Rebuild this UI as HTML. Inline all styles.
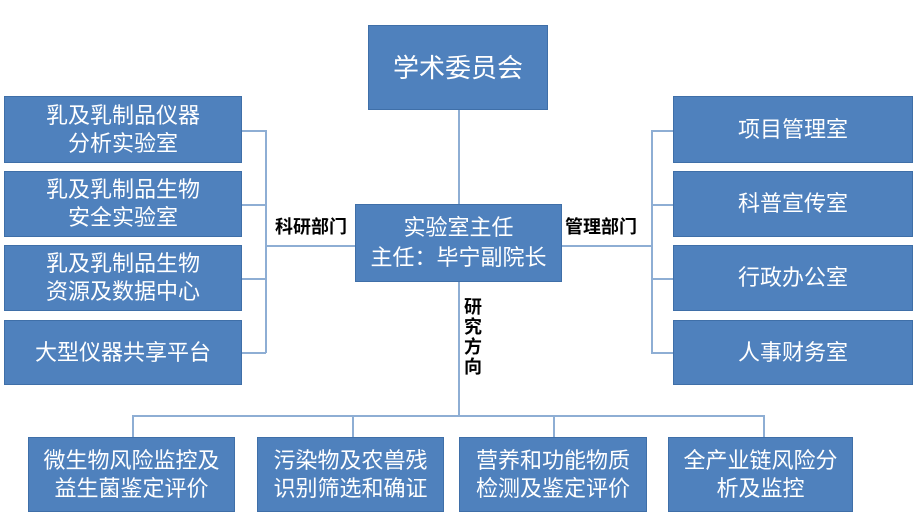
<!DOCTYPE html>
<html><head><meta charset="utf-8"><style>
body{margin:0;width:916px;height:523px;background:#fff;position:relative;overflow:hidden;font-family:"Liberation Sans","Noto Sans CJK SC",sans-serif}
.b{position:absolute;background:#4f81bd;border:1px solid #3f6fa8;color:#fff;display:flex;align-items:center;justify-content:center;text-align:center;font-size:22px;line-height:28px;box-sizing:border-box}
.l{position:absolute;background:#8eaed4}
.t{position:absolute;font-size:18px;font-weight:bold;color:#000}
</style></head><body>
<div class="l" style="left:458px;top:110px;width:2px;height:95px"></div>
<div class="l" style="left:458px;top:282px;width:2px;height:134px"></div>
<div class="l" style="left:265px;top:130px;width:2px;height:223px"></div>
<div class="l" style="left:242px;top:130px;width:24px;height:2px"></div>
<div class="l" style="left:242px;top:204px;width:24px;height:2px"></div>
<div class="l" style="left:242px;top:278px;width:24px;height:2px"></div>
<div class="l" style="left:242px;top:352px;width:24px;height:2px"></div>
<div class="l" style="left:265px;top:245px;width:90px;height:2px"></div>
<div class="l" style="left:651px;top:130px;width:2px;height:223px"></div>
<div class="l" style="left:651px;top:130px;width:22px;height:2px"></div>
<div class="l" style="left:651px;top:204px;width:22px;height:2px"></div>
<div class="l" style="left:651px;top:278px;width:22px;height:2px"></div>
<div class="l" style="left:651px;top:352px;width:22px;height:2px"></div>
<div class="l" style="left:562px;top:245px;width:90px;height:2px"></div>
<div class="l" style="left:132px;top:415px;width:633px;height:2px"></div>
<div class="l" style="left:132px;top:415px;width:2px;height:22px"></div>
<div class="l" style="left:352px;top:415px;width:2px;height:22px"></div>
<div class="l" style="left:553px;top:415px;width:2px;height:22px"></div>
<div class="l" style="left:763px;top:415px;width:2px;height:22px"></div>
<div class="b" style="left:368px;top:25px;width:180px;height:85px;font-size:26px">学术委员会</div>
<div class="b" style="left:355px;top:204px;width:207px;height:78px;line-height:30px">实验室主任<br>主任：毕宁副院长</div>
<div class="b" style="left:4px;top:96px;width:238px;height:67px">乳及乳制品仪器<br>分析实验室</div>
<div class="b" style="left:4px;top:171px;width:238px;height:66px">乳及乳制品生物<br>安全实验室</div>
<div class="b" style="left:4px;top:245px;width:238px;height:66px">乳及乳制品生物<br>资源及数据中心</div>
<div class="b" style="left:4px;top:320px;width:238px;height:65px">大型仪器共享平台</div>
<div class="b" style="left:673px;top:96px;width:240px;height:67px">项目管理室</div>
<div class="b" style="left:673px;top:171px;width:240px;height:66px">科普宣传室</div>
<div class="b" style="left:673px;top:245px;width:240px;height:66px">行政办公室</div>
<div class="b" style="left:673px;top:320px;width:240px;height:65px">人事财务室</div>
<div class="b" style="left:28px;top:437px;width:207px;height:75px">微生物风险监控及<br>益生菌鉴定评价</div>
<div class="b" style="left:257px;top:437px;width:187px;height:75px">污染物及农兽残<br>识别筛选和确证</div>
<div class="b" style="left:459px;top:437px;width:188px;height:75px">营养和功能物质<br>检测及鉴定评价</div>
<div class="b" style="left:668px;top:437px;width:185px;height:75px">全产业链风险分<br>析及监控</div>
<div class="t" style="left:275px;top:213px">科研部门</div>
<div class="t" style="left:565px;top:213px">管理部门</div>
<div class="t" style="left:464px;top:297px;width:20px;line-height:20px;background:#fff">研究方向</div>
</body></html>
